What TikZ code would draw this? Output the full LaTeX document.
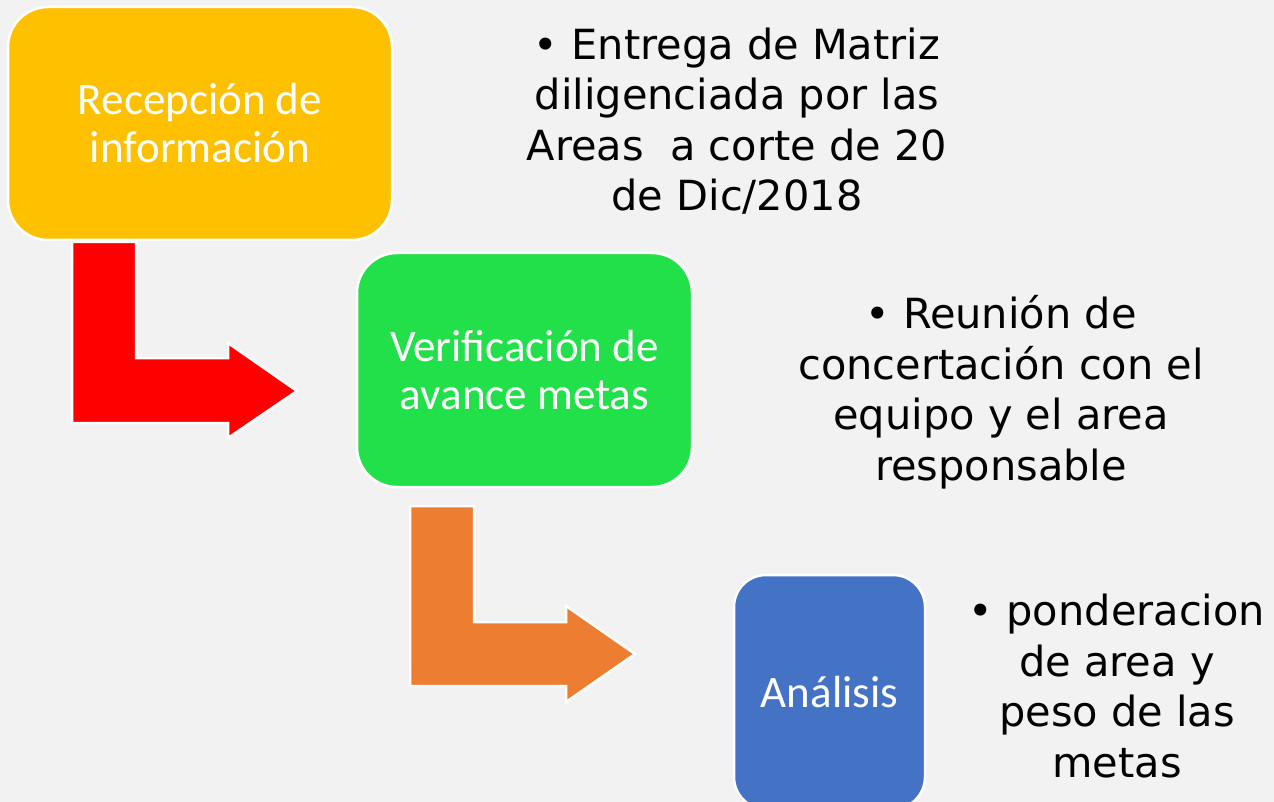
\documentclass[tikz,border=0pt]{standalone}
\usepackage{fontspec}
\setmainfont{Carlito}
\newfontfamily\notafont{DejaVu Sans}
\usepackage{tikz}
\definecolor{fondo}{HTML}{F2F2F2}
\definecolor{amarillo}{HTML}{FFC000}
\definecolor{verde}{HTML}{22E04A}
\definecolor{azul}{HTML}{4472C4}
\definecolor{rojo}{HTML}{FF0000}
\definecolor{naranja}{HTML}{ED7D31}

\begin{document}
\begin{tikzpicture}[x=1pt,y=-1pt,
  caja/.style={draw=white,line width=2.5pt,rounded corners=40pt,text=white,
    align=center,inner sep=0pt,font=\fontsize{45}{48}\selectfont},
  nota/.style={align=center,inner sep=0pt,font=\notafont\fontsize{41.5}{50.5}\selectfont},
  flecha/.style={draw=white,line width=2.5pt}]
  \useasboundingbox (0,0) rectangle (1274,802);
  \clip (0,0) rectangle (1274,802);
  \fill[fondo] (0,0) rectangle (1274,802);
  % cajas
  \node[caja,fill=amarillo,minimum width=384pt,minimum height=233pt] (recep) at (200,123.5) {Recepción de\\información};
  \node[caja,fill=verde,minimum width=335pt,minimum height=234pt] (verif) at (524.5,370) {Verificación de\\avance metas};
  \node[caja,fill=azul,rounded corners=32pt,minimum width=191pt,minimum height=234pt] (anal) at (829.5,692) {Análisis};
  % flechas
  \filldraw[flecha,fill=rojo] (72,242) -- (136,242) -- (136,358) -- (228,358) -- (228,343)
    -- (297,391) -- (228,438) -- (228,423) -- (72,423) -- cycle;
  \filldraw[flecha,fill=naranja] (410,506) -- (474,506) -- (474,622) -- (566,622) -- (566,606)
    -- (635,654) -- (566,702) -- (566,686) -- (410,686) -- cycle;
  % notas
  \node[nota] (nota1) at (737,121) {\textbullet{} Entrega de Matriz\\diligenciada por las\\Areas~~a corte de 20\\de Dic/2018};
  \node[nota] (nota2) at (1001,392) {\textbullet{} Reunión de\\concertación con el\\equipo y el area\\responsable};
  \node[nota] (nota3) at (1117,686) {\textbullet{} ponderacion\\de area y\\peso de las\\metas};
\end{tikzpicture}
\end{document}
